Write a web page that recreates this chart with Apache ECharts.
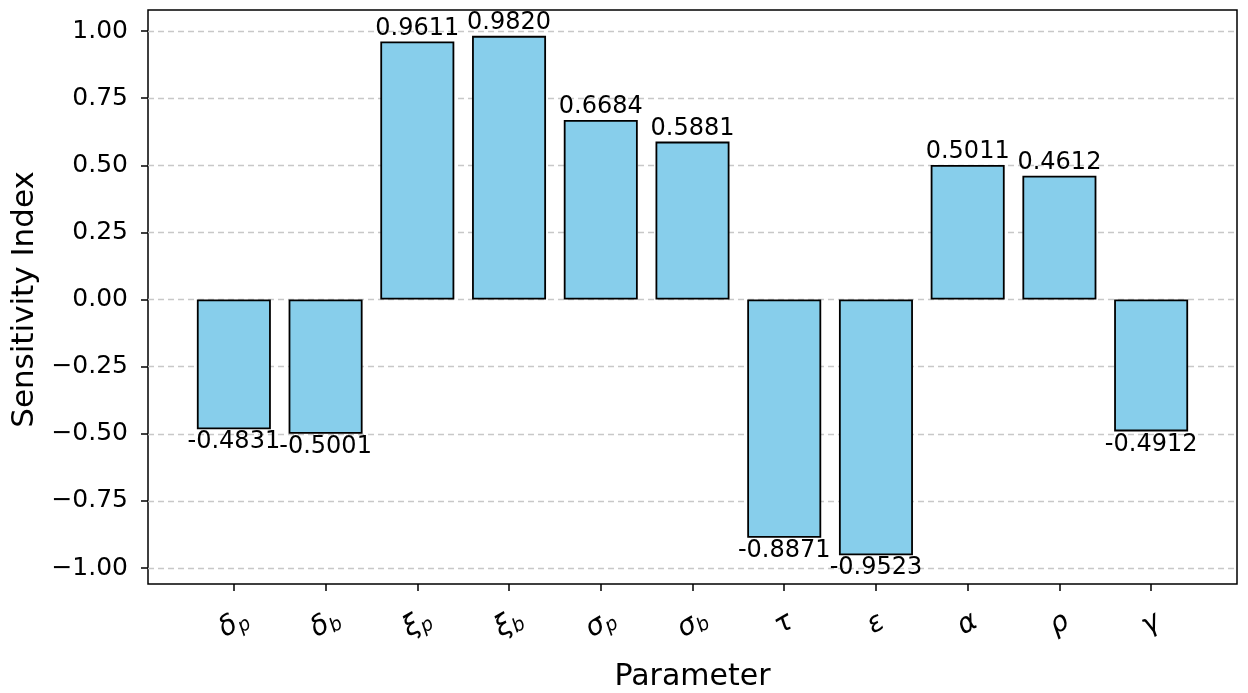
<!DOCTYPE html>
<html>
<head>
<meta charset="utf-8">
<script src="https://cdn.jsdelivr.net/npm/echarts@6/dist/echarts.min.js"></script>
<style>html,body{margin:0;padding:0;background:#fff;}#c{width:1248px;height:693px;}</style>
</head>
<body>
<div id="c"></div>
<script>
const symbols = ['δ','δ','ξ','ξ','σ','σ','τ','ε','α','ρ','γ'];
const subs = ['p','b','p','b','p','b','','','','',''];
const values = [-0.4831, -0.5001, 0.9611, 0.9820, 0.6684, 0.5881, -0.8871, -0.9523, 0.5011, 0.4612, -0.4912];
const yTicks = [-1, 1, 0.25]; // min, max, interval

const categories = symbols.map((s, i) => s + '|' + subs[i]);
const FONT = 'DejaVu Sans';

const chart = echarts.init(document.getElementById('c'), null, {renderer: 'canvas'});
const option = {
  backgroundColor: '#fff',
  animation: false,
  grid: [
    {left: 148, right: 11, top: 10, bottom: 109, show: true, borderColor: '#000', borderWidth: 1.5, backgroundColor: 'transparent', containLabel: false, outerBoundsMode: 'none'},
    {left: 148, right: 11, top: 31, bottom: 125, containLabel: false, outerBoundsMode: 'none'},
    {left: 188, right: 51, top: 31, bottom: 125, containLabel: false, outerBoundsMode: 'none'}
  ],
  xAxis: [
    {gridIndex: 0, type: 'value', show: false, min: 0, max: 1},
    {gridIndex: 1, type: 'value', show: false, min: 0, max: 1},
    {
      gridIndex: 2, type: 'category', data: categories, offset: 16,
      axisLine: {show: false, onZero: false},
      axisTick: {show: true, alignWithLabel: true, length: 7, lineStyle: {color: '#000', width: 1.5}},
      axisLabel: {
        rotate: 30, margin: 40, align: 'center', verticalAlign: 'middle', interval: 0,
        formatter: function (v) {
          const p = v.split('|');
          return '{m|' + p[0] + '}' + (p[1] ? '{s|' + p[1] + '}' : '');
        },
        rich: {
          m: {fontFamily: FONT, fontSize: 28, fontStyle: 'italic', color: '#000', lineHeight: 32, verticalAlign: 'middle'},
          s: {fontFamily: FONT, fontSize: 19, fontStyle: 'italic', color: '#000', lineHeight: 32, verticalAlign: 'bottom', padding: [7, 0, 0, 0]}
        }
      },
      name: 'Parameter', nameLocation: 'middle', nameGap: 78,
      nameTextStyle: {fontFamily: FONT, fontSize: 30, color: '#000'}
    }
  ],
  yAxis: [
    {gridIndex: 0, type: 'value', show: false, min: 0, max: 1},
    {
      gridIndex: 1, type: 'value', min: yTicks[0], max: yTicks[1], interval: yTicks[2],
      axisLine: {show: false},
      axisTick: {show: true, length: 7, lineStyle: {color: '#000', width: 1.5}},
      axisLabel: {
        fontFamily: FONT, fontSize: 25, color: '#000', margin: 20,
        formatter: v => (v < 0 ? '\u2212' : '') + Math.abs(v).toFixed(2)
      },
      splitLine: {show: true, lineStyle: {color: '#c8c8c8', width: 1.3, type: [6, 4]}},
      name: 'Sensitivity Index', nameLocation: 'middle', nameGap: 96,
      nameTextStyle: {fontFamily: FONT, fontSize: 31, color: '#000'}
    },
    {gridIndex: 2, type: 'value', show: false, min: yTicks[0], max: yTicks[1], interval: yTicks[2]}
  ],
  series: [{
    type: 'bar',
    xAxisIndex: 2, yAxisIndex: 2,
    barWidth: 74,
    data: values.map(v => ({
      value: v,
      label: {position: v >= 0 ? 'top' : 'bottom'}
    })),
    itemStyle: {color: '#87CEEB', borderColor: '#000', borderWidth: 1.8},
    label: {
      show: true, distance: 1, fontFamily: FONT, fontSize: 24, color: '#000',
      formatter: p => p.value.toFixed(4)
    }
  }]
};
chart.setOption(option);
</script>
</body>
</html>
